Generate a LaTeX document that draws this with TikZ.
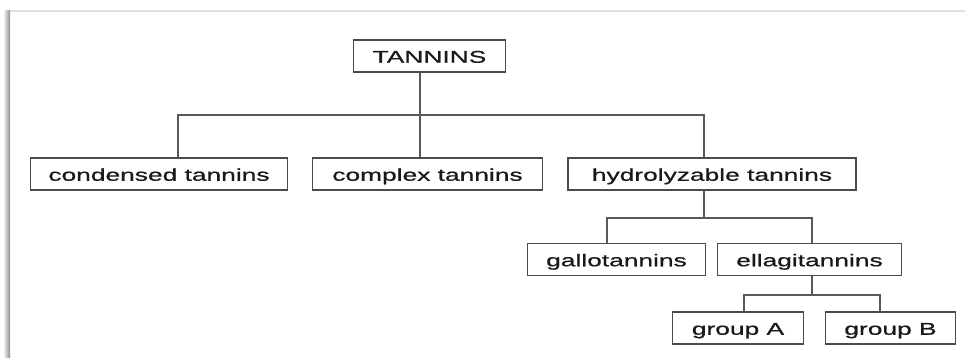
\documentclass[tikz,border=0pt]{standalone}
\usepackage{fontspec}
\setmainfont{Liberation Sans}[FakeStretch=1.55,FakeBold=0.8]
\usetikzlibrary{calc}

\begin{document}
\begin{tikzpicture}[x=1pt,y=-1pt]
    \tikzstyle{box}=[draw=black!70,line width=1.2pt,text=black!90,inner xsep=19pt,inner ysep=0pt,minimum height=32pt,text height=14.5pt,text depth=1pt,font=\fontsize{17}{20}\selectfont]
    \tikzstyle{link}=[draw=black!65,line width=1.2pt]
    \useasboundingbox (0,0) rectangle (965,358);
    % page frame with its shadow
    \shade[left color=white,right color=black!45] (3,11) rectangle (10,358);
    \draw[black!12,line width=1.5pt] (10,11) -- (965,11);
    % boxes
    \node (tannins)[box] at (429.5,56) {TANNINS};
    \node (condensed)[box,inner xsep=18pt] at (159,174) {condensed tannins};
    \node (complex)[box,inner xsep=20pt] at (427.5,174) {complex tannins};
    \node (hydro)[box,minimum width=288pt,inner xsep=0pt] at (712,174) {hydrolyzable tannins};
    \node (gallo)[box] at (616.5,259.5) {gallotannins};
    \node (ellagi)[box] at (809.5,259.5) {ellagitannins};
    \node (groupA)[box] at (738,328) {group A};
    \node (groupB)[box] at (890.5,328) {group B};
    % bars
    \coordinate (barAl) at (178,115);
    \coordinate (barAm) at (420,115);
    \coordinate (barAr) at (704,115);
    \coordinate (barBl) at (607,218);
    \coordinate (barBr) at (812,218);
    \coordinate (barCl) at (744,295);
    \coordinate (barCr) at (880,295);
    \draw[link] (tannins.south -| barAm) -- (complex.north -| barAm);
    \draw[link] (condensed.north -| barAl) -- (barAl) -- (barAr) -- (hydro.north -| barAr);
    \draw[link] (hydro.south -| barAr) -- (barAr |- barBl);
    \draw[link] (gallo.north -| barBl) -- (barBl) -- (barBr) -- (ellagi.north -| barBr);
    \draw[link] (ellagi.south -| barBr) -- (barBr |- barCl);
    \draw[link] (groupA.north -| barCl) -- (barCl) -- (barCr) -- (groupB.north -| barCr);
\end{tikzpicture}
\end{document}
